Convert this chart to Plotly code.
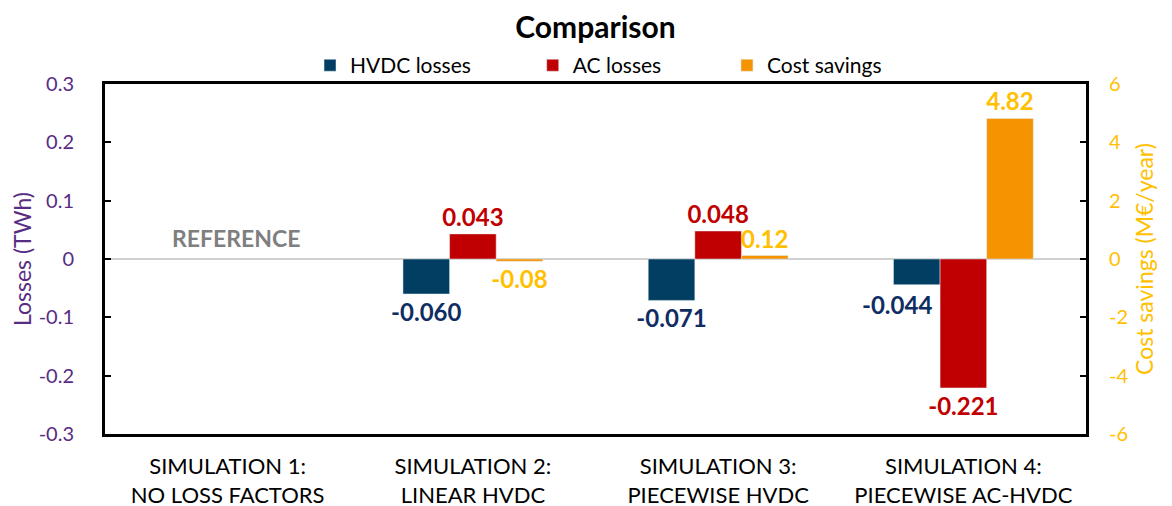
import plotly.graph_objects as go

categorias = ["SIMULATION 1:<br>NO LOSS FACTORS", "SIMULATION 2:<br>LINEAR HVDC",
              "SIMULATION 3:<br>PIECEWISE HVDC", "SIMULATION 4:<br>PIECEWISE AC-HVDC"]
hvdc_losses = [None, -0.060, -0.071, -0.044]
ac_losses = [None, 0.043, 0.048, -0.221]
cost_savings = [None, -0.08, 0.12, 4.82]

ticks_izq = [-0.3, -0.2, -0.1, 0, 0.1, 0.2, 0.3]
textos_izq = ["-0.3", "-0.2", "-0.1", "0", "0.1", "0.2", "0.3"]
ticks_der = [-6, -4, -2, 0, 2, 4, 6]
textos_der = ["-6", "-4", "-2", "0", "2", "4", "6"]

FUENTE = "Lato"
MORADO = "#582C83"
AMARILLO = "#FFC000"
AZUL_TXT = "#0F2D63"
T_ETIQ = 24


def etiquetas(valores, dec):
    return ["" if v is None else f"{v:.{dec}f}" for v in valores]


# la etiqueta de la simulación 4 (HVDC) va desplazada a la izquierda, como en el original
txt_hvdc = etiquetas(hvdc_losses, 3)
txt_hvdc_movida = txt_hvdc[3]
txt_hvdc[3] = ""

fig = go.Figure()

fig.add_trace(go.Bar(x=categorias, y=hvdc_losses, name="HVDC losses", marker_color="#023E62",
                     text=txt_hvdc, textposition="outside", legend="legend",
                     textfont=dict(color=AZUL_TXT, size=T_ETIQ, family=FUENTE, weight="bold"),
                     width=0.19, offset=-0.285, offsetgroup="1", cliponaxis=False, constraintext="none"))
fig.add_trace(go.Bar(x=categorias, y=ac_losses, name="AC losses", marker_color="#C00000",
                     text=etiquetas(ac_losses, 3), textposition="outside", legend="legend2",
                     textfont=dict(color="#C00000", size=T_ETIQ, family=FUENTE, weight="bold"),
                     width=0.19, offset=-0.095, offsetgroup="2", cliponaxis=False, constraintext="none"))
fig.add_trace(go.Bar(x=categorias, y=cost_savings, name="Cost savings", marker_color="#F59300",
                     text=etiquetas(cost_savings, 2), textposition="outside", legend="legend3",
                     textfont=dict(color=AMARILLO, size=T_ETIQ, family=FUENTE, weight="bold"),
                     width=0.19, offset=0.095, offsetgroup="3", yaxis="y2",
                     cliponaxis=False, constraintext="none"))

fig.add_annotation(x=categorias[3], y=hvdc_losses[3], yanchor="top", yshift=-3, xshift=-66,
                   text=f"<b>{txt_hvdc_movida}</b>", showarrow=False,
                   font=dict(color=AZUL_TXT, size=T_ETIQ, family=FUENTE))

fig.add_annotation(x=categorias[0], y=0, yanchor="bottom", yshift=5, xshift=8, text="<b>REFERENCE</b>",
                   showarrow=False, font=dict(color="#7F7F7F", size=23, family=FUENTE))

leyenda = dict(orientation="h", xanchor="left", y=0.994, yanchor="bottom",
               font=dict(size=21, family=FUENTE), itemwidth=30, bgcolor="rgba(0,0,0,0)")

# la página tiene 8 px de margen en el body: se compensa en los márgenes
fig.update_layout(
    width=1172, height=506,
    margin=dict(l=97, r=94, t=76, b=80),
    plot_bgcolor="white", paper_bgcolor="white",
    font=dict(family=FUENTE, color="black"),
    barmode="group",
    title=dict(text="<b>Comparison</b>", x=0.5, xref="paper", xanchor="center", y=0.962, yanchor="middle",
               font=dict(size=30, family=FUENTE, color="black")),
    legend=dict(leyenda, x=0.209),
    legend2=dict(leyenda, x=0.436),
    legend3=dict(leyenda, x=0.634),
    showlegend=True,
    xaxis=dict(categoryorder="array", categoryarray=categorias, showline=True, linecolor="black",
               linewidth=3, mirror=True, ticks="", tickfont=dict(size=22, family=FUENTE, color="black"),
               showgrid=False, automargin=False, ticklabelstandoff=11),
    yaxis=dict(range=[-0.3, 0.3], tickvals=ticks_izq, ticktext=textos_izq, showgrid=False,
               zeroline=True, zerolinecolor="#D0D0D0", zerolinewidth=2, automargin=False,
               showline=True, linecolor="black", linewidth=3, ticks="inside", ticklen=6, tickwidth=2,
               tickcolor="black", tickfont=dict(size=20, color=MORADO, family=FUENTE), ticklabelstandoff=24,
               title=dict(text="Losses (TWh)", font=dict(size=23, color=MORADO, family=FUENTE), standoff=4)),
    yaxis2=dict(range=[-6, 6], tickvals=ticks_der, ticktext=textos_der, overlaying="y", side="right",
                showgrid=False, zeroline=False, showline=True, linecolor="black", linewidth=3,
                ticks="inside", ticklen=6, tickwidth=2, tickcolor="black", automargin=False,
                tickfont=dict(size=20, color=AMARILLO, family=FUENTE), ticklabelstandoff=16,
                title=dict(text="Cost savings (M€/year)", font=dict(size=23, color=AMARILLO, family=FUENTE),
                           standoff=10)),
)

fig.write_html("out.html")
